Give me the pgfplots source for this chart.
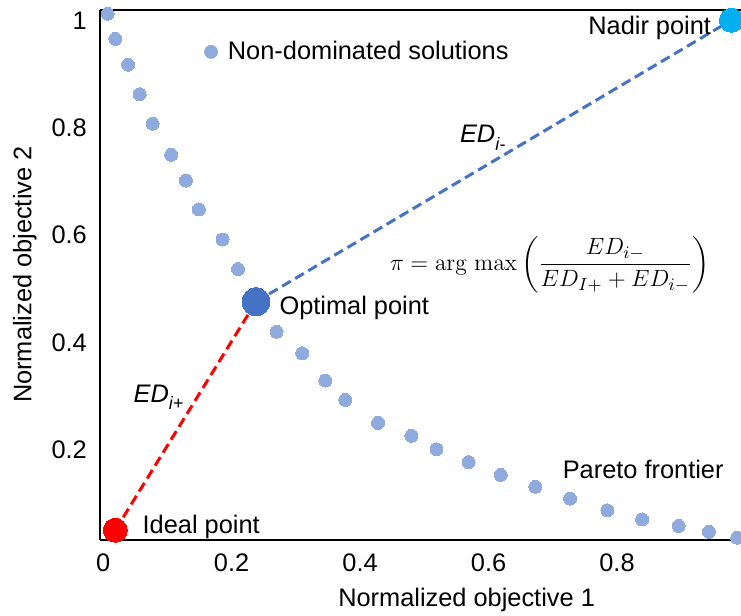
\documentclass[border=0pt]{standalone}
\usepackage[no-math]{fontspec}
\setmainfont{Liberation Sans}
\usepackage{amsmath}
\usepackage{graphicx}
\usepackage{pgfplots}
\pgfplotsset{compat=1.18}

\definecolor{dotblue}{RGB}{143,170,220}
\definecolor{optblue}{RGB}{68,114,196}
\definecolor{nadircyan}{RGB}{0,176,240}
\definecolor{idealred}{RGB}{255,0,0}

\newcommand{\ED}[1]{\textit{ED}\raisebox{-0.55ex}{\fontsize{9}{10}\selectfont\itshape #1}}

\begin{document}
\begin{tikzpicture}[trim axis right]
\begin{axis}[
  name=ax,
  scale only axis,
  width=320.9pt, height=265.5pt,
  xmin=-0.005, xmax=0.993,
  ymin=0.031, ymax=1.02,
  axis x line=box, axis y line=left,
  axis line style={-, line width=1.1pt, black},
  xtick={0,0.2,0.4,0.6,0.8},
  ytick={0.2,0.4,0.6,0.8,1},
  xticklabels={0,0.2,0.4,0.6,0.8},
  yticklabels={0.2,0.4,0.6,0.8,1},
  major tick length=0pt,
  xticklabel shift=3pt, yticklabel shift=3pt,
  font=\fontsize{12.7}{15}\selectfont,
  /pgf/number format/assume math mode=true,
  xlabel={Normalized objective 1},
  ylabel={Normalized objective 2},
  x label style={at={(axis description cs:0.572,-0.113)}, anchor=center, inner sep=1pt},
  y label style={at={(axis description cs:-0.117,0.501)}, anchor=center, rotate=0, inner sep=1pt},
  clip=false,
  legend style={at={(rel axis cs:0.162,0.921)}, anchor=west, draw=none, fill=none,
                inner sep=0pt, font=\fontsize{12.7}{15}\selectfont},
  legend cell align=left,
  legend image code/.code={\fill[dotblue] (0pt,0pt) circle (3.25pt);},
]
% distance lines from the optimal point to the reference points
\addplot[idealred, line width=1.5pt, dash pattern=on 5pt off 2.6pt, forget plot]
  coordinates {(0.019,0.050) (0.238,0.476)};
\addplot[optblue, line width=1.5pt, dash pattern=on 5pt off 2.6pt, forget plot]
  coordinates {(0.238,0.476) (0.978,1.001)};

% non-dominated solutions along the Pareto frontier
\addplot[dotblue, only marks, mark=*, mark size=3.25pt, mark options={draw=dotblue, fill=dotblue, line width=0pt}]
  coordinates {
  (0.007,1.013) (0.019,0.966) (0.039,0.918) (0.057,0.863) (0.077,0.808)
  (0.106,0.750) (0.129,0.702) (0.149,0.648) (0.186,0.592) (0.210,0.537)
  (0.270,0.420) (0.310,0.380) (0.346,0.329) (0.377,0.293) (0.428,0.250)
  (0.480,0.226) (0.519,0.201) (0.569,0.177) (0.619,0.153) (0.673,0.131)
  (0.727,0.109) (0.785,0.087) (0.839,0.070) (0.896,0.058) (0.943,0.047)
  (0.987,0.036)};
\addlegendentry{\hspace{3pt}Non-dominated solutions}

% reference points and the selected compromise
\addplot[idealred, only marks, mark=*, mark size=6pt, mark options={draw=idealred, fill=idealred, line width=0pt}, forget plot]
  coordinates {(0.019,0.050)};
\addplot[nadircyan, only marks, mark=*, mark size=6pt, mark options={draw=nadircyan, fill=nadircyan, line width=0pt}, forget plot]
  coordinates {(0.978,1.001)};
\addplot[optblue, only marks, mark=*, mark size=7pt, mark options={draw=optblue, fill=optblue, line width=0pt}, forget plot]
  coordinates {(0.238,0.476)};

% annotations
\node[anchor=east, inner sep=0pt] at (axis cs:0.947,0.987) {Nadir point};
\node[anchor=west, inner sep=0pt] at (axis cs:0.274,0.465) {Optimal point};
\node[anchor=west, inner sep=0pt] at (axis cs:0.061,0.057) {Ideal point};
\node[anchor=west, inner sep=0pt] at (axis cs:0.715,0.163) {Pareto frontier};
\node[anchor=west, inner sep=0pt] at (axis cs:0.555,0.782) {\ED{i-}};
\node[anchor=west, inner sep=0pt] at (axis cs:0.047,0.298) {\ED{i+}};
\node[anchor=west, inner sep=0pt] at (axis cs:0.446,0.545)
  {\resizebox{160pt}{!}{$\displaystyle \pi = \mathrm{arg\ max}\left(\frac{ED_{i-}}{ED_{I+}+ED_{i-}}\right)$}};
\end{axis}
% white margins around the plot area
\path ([xshift=-50pt, yshift=5pt]ax.north west);
\path ([xshift=-50pt, yshift=-37.5pt]ax.south west);
\end{tikzpicture}
\end{document}
